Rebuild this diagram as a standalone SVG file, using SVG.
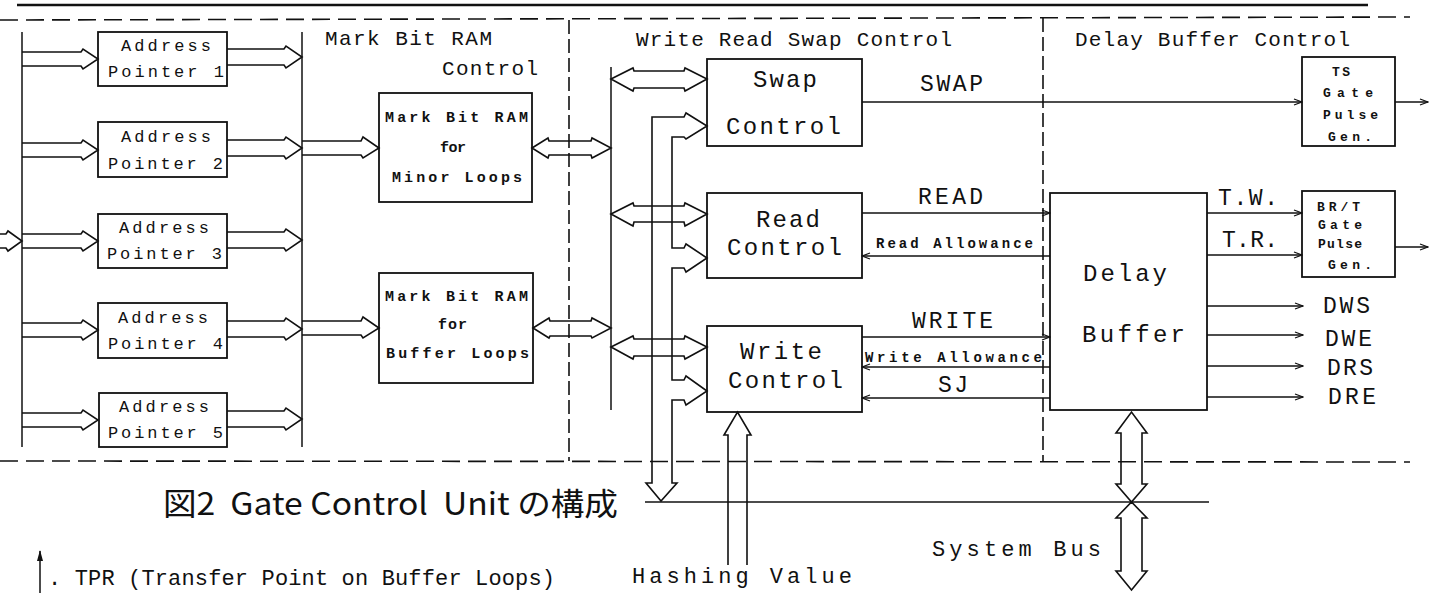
<svg xmlns="http://www.w3.org/2000/svg" width="1438" height="593" viewBox="0 0 1438 593">
<defs>
<style>
.bg{fill:#fff}
.box{fill:none;stroke:#111;stroke-width:1.8}
.bus{fill:none;stroke:#111;stroke-width:1.6;stroke-linejoin:miter}
.ln{fill:none;stroke:#111;stroke-width:1.5}
.dash{fill:none;stroke:#111;stroke-width:1.6;stroke-dasharray:18 8}
.vdash{fill:none;stroke:#111;stroke-width:1.6;stroke-dasharray:14 5}
.t{font-family:"Liberation Mono","DejaVu Sans Mono",monospace;fill:#111}
.ap{font-size:17px}
.ti{font-size:21px}
.mb{font-size:15px;font-weight:bold}
.bx{font-size:24px}
.sg{font-size:23px}
.sm{font-size:14px;font-weight:bold}
.gp{font-size:13px;font-weight:bold}
.cap{font-family:"Noto Sans CJK JP","Noto Sans",sans-serif;font-size:31px;fill:#111;white-space:pre}
.bt{font-family:"Liberation Mono","DejaVu Sans Mono",monospace;font-size:22px;fill:#111}
</style>
<marker id="ah" markerWidth="10" markerHeight="8" refX="9" refY="4" orient="auto" markerUnits="userSpaceOnUse">
<path d="M1,1 L9,4 L1,7" fill="none" stroke="#111" stroke-width="1.3"/>
</marker>
<marker id="ahf" markerWidth="8" markerHeight="12" refX="4" refY="1" orient="0" markerUnits="userSpaceOnUse">
<path d="M4,0 L7,11 L1,11 Z" fill="#111"/>
</marker>
</defs>
<rect class="bg" x="0" y="0" width="1438" height="593"/>

<g id="frame">
<line x1="17" y1="5" x2="1368" y2="5" stroke="#111" stroke-width="2.4"/>
<line class="dash" x1="0" y1="20" x2="1410" y2="17"/>
<line class="dash" x1="0" y1="461" x2="1410" y2="462"/>
<line class="vdash" x1="569" y1="20" x2="569" y2="461"/>
<line class="vdash" x1="1043" y1="18" x2="1043" y2="461"/>
</g>

<g id="section-titles">
<text class="t ti" x="325" y="45" textLength="167" lengthAdjust="spacing">Mark Bit RAM</text>
<text class="t ti" x="442" y="75" textLength="96" lengthAdjust="spacing">Control</text>
<text class="t ti" x="636" y="46" textLength="316" lengthAdjust="spacing">Write Read Swap Control</text>
<text class="t ti" x="1075" y="46" textLength="275" lengthAdjust="spacing">Delay Buffer Control</text>
</g>

<g id="address-pointer-1">
<rect class="box" x="98" y="32" width="129" height="54"/>
<text class="t ap" x="121" y="51" textLength="90" lengthAdjust="spacing">Address</text>
<text class="t ap" x="108" y="77" textLength="116" lengthAdjust="spacing">Pointer 1</text>
</g>
<g id="address-pointer-2">
<rect class="box" x="98" y="122" width="129" height="55"/>
<text class="t ap" x="121" y="142" textLength="90" lengthAdjust="spacing">Address</text>
<text class="t ap" x="108" y="169" textLength="115" lengthAdjust="spacing">Pointer 2</text>
</g>
<g id="address-pointer-3">
<rect class="box" x="98" y="214" width="129" height="54"/>
<text class="t ap" x="119" y="233" textLength="90" lengthAdjust="spacing">Address</text>
<text class="t ap" x="107" y="259" textLength="115" lengthAdjust="spacing">Pointer 3</text>
</g>
<g id="address-pointer-4">
<rect class="box" x="98" y="303" width="129" height="55"/>
<text class="t ap" x="118" y="323" textLength="90" lengthAdjust="spacing">Address</text>
<text class="t ap" x="108" y="349" textLength="115" lengthAdjust="spacing">Pointer 4</text>
</g>
<g id="address-pointer-5">
<rect class="box" x="99" y="393" width="128" height="54"/>
<text class="t ap" x="119" y="412" textLength="90" lengthAdjust="spacing">Address</text>
<text class="t ap" x="108" y="438" textLength="115" lengthAdjust="spacing">Pointer 5</text>
</g>

<g id="mark-bit-ram-minor">
<rect class="box" x="379" y="93" width="153" height="109"/>
<text class="t mb" x="385" y="122" textLength="143" lengthAdjust="spacing">Mark Bit RAM</text>
<text class="t mb" x="440" y="152" textLength="26" lengthAdjust="spacing">for</text>
<text class="t mb" x="392" y="182" textLength="130" lengthAdjust="spacing">Minor Loops</text>
</g>
<g id="mark-bit-ram-buffer">
<rect class="box" x="379" y="273" width="154" height="110"/>
<text class="t mb" x="385" y="301" textLength="143" lengthAdjust="spacing">Mark Bit RAM</text>
<text class="t mb" x="438" y="329" textLength="29" lengthAdjust="spacing">for</text>
<text class="t mb" x="386" y="358" textLength="143" lengthAdjust="spacing">Buffer Loops</text>
</g>

<g id="swap-control">
<rect class="box" x="707" y="59" width="155" height="87"/>
<text class="t bx" x="753" y="87" textLength="64" lengthAdjust="spacing">Swap</text>
<text class="t bx" x="726" y="134" textLength="115" lengthAdjust="spacing">Control</text>
</g>
<g id="read-control">
<rect class="box" x="707" y="193" width="155" height="85"/>
<text class="t bx" x="756" y="227" textLength="64" lengthAdjust="spacing">Read</text>
<text class="t bx" x="727" y="255" textLength="115" lengthAdjust="spacing">Control</text>
</g>
<g id="write-control">
<rect class="box" x="707" y="326" width="155" height="86"/>
<text class="t bx" x="740" y="359" textLength="82" lengthAdjust="spacing">Write</text>
<text class="t bx" x="728" y="388" textLength="115" lengthAdjust="spacing">Control</text>
</g>

<g id="delay-buffer">
<rect class="box" x="1050" y="193" width="157" height="217"/>
<text class="t bx" x="1083" y="281" textLength="84" lengthAdjust="spacing">Delay</text>
<text class="t bx" x="1082" y="342" textLength="103" lengthAdjust="spacing">Buffer</text>
</g>

<g id="ts-gate-pulse-gen">
<rect class="box" x="1302" y="57" width="93" height="89"/>
<text class="t gp" x="1332" y="76" textLength="18" lengthAdjust="spacing">TS</text>
<text class="t gp" x="1323" y="97" textLength="50" lengthAdjust="spacing">Gate</text>
<text class="t gp" x="1323" y="119" textLength="55" lengthAdjust="spacing">Pulse</text>
<text class="t gp" x="1328" y="141" textLength="44" lengthAdjust="spacing">Gen.</text>
</g>
<g id="brt-gate-pulse-gen">
<rect class="box" x="1302" y="191" width="93" height="86"/>
<text class="t gp" x="1317" y="211" textLength="43" lengthAdjust="spacing">BR/T</text>
<text class="t gp" x="1318" y="229" textLength="44" lengthAdjust="spacing">Gate</text>
<text class="t gp" x="1318" y="248" textLength="44" lengthAdjust="spacing">Pulse</text>
<text class="t gp" x="1328" y="269" textLength="44" lengthAdjust="spacing">Gen.</text>
</g>

<g id="connectors">
<line class="ln" x1="22" y1="32" x2="22" y2="447"/>
<line class="ln" x1="302" y1="32" x2="302" y2="447"/>
<path class="bus" d="M0,234 H6 L8,231 L22,241 L8,251 L6,248 H0"/>
<path class="bus" d="M22,52 H81 L83,49 L98,59 L83,69 L81,66 H22"/>
<path class="bus" d="M22,143 H81 L83,140 L98,150 L83,160 L81,157 H22"/>
<path class="bus" d="M22,234 H81 L83,231 L98,241 L83,251 L81,248 H22"/>
<path class="bus" d="M22,323 H81 L83,320 L98,330 L83,340 L81,337 H22"/>
<path class="bus" d="M22,413 H81 L83,410 L98,420 L83,430 L81,427 H22"/>
<path class="bus" d="M227,49 H284 L286,46 L302,57 L286,68 L284,65 H227"/>
<path class="bus" d="M227,140 H284 L286,137 L302,148 L286,159 L284,156 H227"/>
<path class="bus" d="M227,232 H284 L286,229 L302,240 L286,251 L284,248 H227"/>
<path class="bus" d="M227,321 H284 L286,318 L302,329 L286,340 L284,337 H227"/>
<path class="bus" d="M227,411 H284 L286,408 L302,419 L286,430 L284,427 H227"/>
<path class="bus" d="M302,141 H361 L363,137 L379,148 L363,158 L361,155 H302"/>
<path class="bus" d="M302,321 H361 L363,317 L379,328 L363,338 L361,335 H302"/>
<path class="bus" d="M532,148 L548,138 L549,141 H591 L592,138 L611,148 L592,158 L591,155 H549 L548,158 Z"/>
<path class="bus" d="M533,328 L549,318 L550,321 H591 L592,318 L611,328 L592,338 L591,336 H550 L549,338 Z"/>
<line class="ln" x1="611" y1="67" x2="611" y2="410"/>
<path class="bus" d="M611,79 L633,68 L634,71 H684 L685,68 L707,79 L685,91 L684,88 H634 L633,91 Z"/>
<path class="bus" d="M611,214 L633,203 L634,206 H684 L685,203 L707,214 L685,226 L684,222 H634 L633,226 Z"/>
<path class="bus" d="M611,347 L633,336 L634,339 H684 L685,336 L707,347 L685,359 L684,356 H634 L633,359 Z"/>
<path class="bus" d="M652,483 V117 H684 L686,113 L707,126 L686,139 L684,137 H672 V248 H684 L686,244 L707,258 L686,272 L684,268 H672 V380 H684 L686,376 L707,391 L686,405 L684,400 H672 V483 H677 L661,501 L646,483 Z"/>
<path class="bus" d="M728,565 V435 H724 L737.5,412 L751,435 H747 V565"/>
<line class="ln" x1="645" y1="502" x2="1209" y2="502"/>
<path class="bus" d="M1121,484 V433 H1116 L1131.5,412 L1147,433 H1142 V484 H1147 L1131.5,502 L1116,484 Z"/>
<path class="bus" d="M1121,518 V571 H1116 L1131.5,590 L1147,571 H1142 V518 H1147 L1131.5,502 L1116,518 Z"/>
<line class="ln" x1="862" y1="102" x2="1302" y2="102" marker-end="url(#ah)"/>
<line class="ln" x1="1395" y1="102" x2="1428" y2="102" marker-end="url(#ah)"/>
<line class="ln" x1="1395" y1="247" x2="1428" y2="247" marker-end="url(#ah)"/>
<line class="ln" x1="862" y1="213" x2="1050" y2="213" marker-end="url(#ah)"/>
<line class="ln" x1="1050" y1="256" x2="862" y2="256" marker-end="url(#ah)"/>
<line class="ln" x1="862" y1="337" x2="1050" y2="337" marker-end="url(#ah)"/>
<line class="ln" x1="1050" y1="367" x2="862" y2="367" marker-end="url(#ah)"/>
<line class="ln" x1="1050" y1="398" x2="862" y2="398" marker-end="url(#ah)"/>
<line class="ln" x1="1207" y1="213" x2="1302" y2="213" marker-end="url(#ah)"/>
<line class="ln" x1="1207" y1="255" x2="1302" y2="255" marker-end="url(#ah)"/>
<line class="ln" x1="1207" y1="306" x2="1303" y2="306" marker-end="url(#ah)"/>
<line class="ln" x1="1207" y1="335" x2="1303" y2="335" marker-end="url(#ah)"/>
<line class="ln" x1="1207" y1="366" x2="1303" y2="366" marker-end="url(#ah)"/>
<line class="ln" x1="1207" y1="397" x2="1303" y2="397" marker-end="url(#ah)"/>
<line class="ln" x1="40" y1="593" x2="40" y2="551" marker-end="url(#ahf)"/>
</g>

<g id="signal-labels">
<text class="t sg" x="920" y="91" textLength="63" lengthAdjust="spacing">SWAP</text>
<text class="t sg" x="918" y="204" textLength="65" lengthAdjust="spacing">READ</text>
<text class="t sm" x="876" y="248" textLength="157" lengthAdjust="spacing">Read Allowance</text>
<text class="t sg" x="912" y="328" textLength="81" lengthAdjust="spacing">WRITE</text>
<text class="t sm" x="865" y="362" textLength="177" lengthAdjust="spacing">Write Allowance</text>
<text class="t sg" x="938" y="392" textLength="30" lengthAdjust="spacing">SJ</text>
<text class="t sg" x="1218" y="205" textLength="60" lengthAdjust="spacing">T.W.</text>
<text class="t sg" x="1222" y="247" textLength="56" lengthAdjust="spacing">T.R.</text>
<text class="t sg" x="1323" y="313" textLength="47" lengthAdjust="spacing">DWS</text>
<text class="t sg" x="1325" y="346" textLength="47" lengthAdjust="spacing">DWE</text>
<text class="t sg" x="1327" y="375" textLength="46" lengthAdjust="spacing">DRS</text>
<text class="t sg" x="1328" y="404" textLength="48" lengthAdjust="spacing">DRE</text>
</g>

<g id="bottom-labels">
<text class="cap" x="163" y="515" textLength="455" lengthAdjust="spacingAndGlyphs" xml:space="preserve">図2  Gate Control  Unit の構成</text>
<text class="bt" x="932" y="556" textLength="169" lengthAdjust="spacing">System Bus</text>
<text class="bt" x="632" y="583" textLength="220" lengthAdjust="spacing">Hashing Value</text>
<text class="bt" x="48" y="585" textLength="507" lengthAdjust="spacing">. TPR (Transfer Point on Buffer Loops)</text>
</g>
</svg>
